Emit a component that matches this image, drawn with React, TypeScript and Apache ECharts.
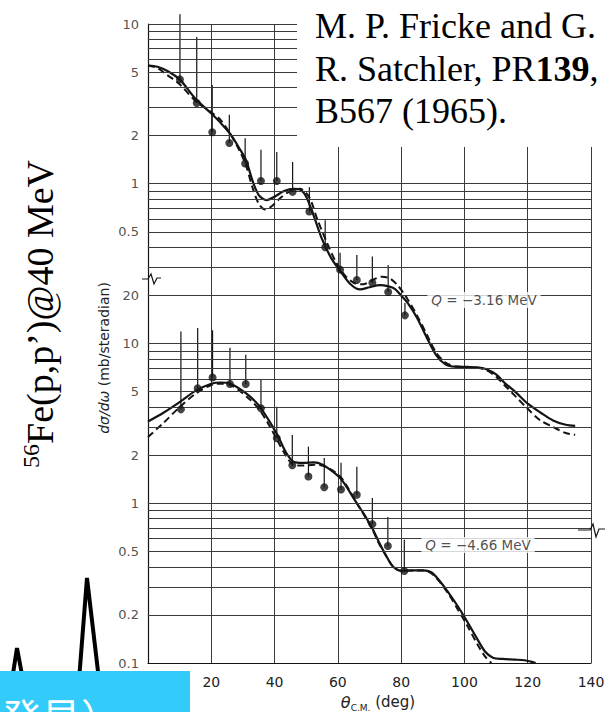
import React, { useEffect, useRef } from 'react';
import * as echarts from 'echarts';

// Upper panel (Q = -3.16 MeV) is drawn two decades above the lower one on one continuous log axis
const UPPER_SHIFT = 100;

const xTickLabels = [20, 40, 60, 80, 100, 120, 140];

// y tick labels: continuous-axis value and printed text
const yTickValues = [1000, 500, 200, 100, 50, 20, 10, 5, 2, 1, 0.5, 0.2, 0.1];
const yTickTexts = ['10', '5', '2', '1', '0.5', '20', '10', '5', '2', '1', '0.5', '0.2', '0.1'];

// horizontal grid lines (upper panel units / lower panel units)
const gridLinesUpper = [10, 9, 8, 7, 6, 5, 4, 3, 2, 1, 0.9, 0.8, 0.7, 0.6, 0.5, 0.4, 0.3];
const gridLinesLower = [20, 10, 9, 8, 7, 6, 5, 4, 3, 2, 1, 0.9, 0.8, 0.7, 0.6, 0.5, 0.4, 0.3, 0.2];

// Q = -3.16 MeV data (upper panel units, mb/sr)
const upperAngles = [10.1, 15.4, 20.3, 25.7, 30.7, 35.7, 40.7, 45.7, 51.0, 56.0, 60.7, 66.0, 70.9, 75.9, 81.2];
const upperValues = [4.5, 3.2, 2.1, 1.8, 1.34, 1.04, 1.04, 0.89, 0.67, 0.4, 0.29, 0.25, 0.24, 0.21, 0.15];
const upperErrTop = [11.5, 8.3, 4.15, 2.7, 1.93, 1.63, 1.58, 1.37, 0.95, 0.59, 0.37, 0.358, 0.35, 0.31, 0.179];

// Q = -4.66 MeV data (lower panel units)
const lowerAngles = [10.4, 15.7, 20.4, 25.9, 30.9, 35.7, 40.7, 45.6, 50.7, 55.7, 61.0, 66.0, 70.9, 75.8, 81.0];
const lowerValues = [3.87, 5.24, 6.13, 5.58, 5.58, 3.93, 2.55, 1.73, 1.47, 1.26, 1.22, 1.13, 0.74, 0.54, 0.377];
const lowerErrTop = [11.9, 12.5, 12.1, 9.4, 8.5, 5.9, 4.02, 2.67, 2.26, 1.92, 1.79, 1.69, 1.08, 0.82, 0.59];

// calculated curves [angle, value]
const upperSolid = [
  [0, 5.5], [3, 5.4], [6, 5.1], [10, 4.5], [15, 3.4], [20, 2.75], [23, 2.4], [26, 2.05], [29, 1.65],
  [31, 1.4], [33, 1.05], [35, 0.85], [37.5, 0.79], [40, 0.83], [43, 0.9], [46, 0.93], [48, 0.92],
  [50, 0.83], [52.5, 0.62], [55, 0.45], [58, 0.34], [61, 0.28], [64, 0.235], [67, 0.218], [70, 0.225],
  [73.3, 0.232], [76, 0.228], [78, 0.22], [80, 0.2], [82, 0.18], [85, 0.145], [88, 0.11], [91, 0.085],
  [94, 0.074], [97, 0.0715], [101, 0.0713], [104, 0.071], [107, 0.069], [110, 0.064], [113, 0.056],
  [116, 0.05], [120, 0.042], [124, 0.037], [128, 0.033], [132, 0.031], [135, 0.0305],
];
const upperDashed = [
  [0, 5.5], [3, 5.3], [6, 4.8], [10, 4.2], [15, 3.3], [20, 2.8], [23, 2.5], [26, 2.05], [29, 1.6],
  [31, 1.3], [33, 0.95], [35, 0.75], [37, 0.69], [39, 0.72], [42, 0.82], [45, 0.9], [48, 0.93],
  [51, 0.82], [53.5, 0.6], [56.5, 0.43], [59.5, 0.32], [62, 0.27], [65, 0.24], [68, 0.235], [71, 0.25],
  [74, 0.262], [76.5, 0.255], [79, 0.23], [82, 0.19], [85, 0.15], [88, 0.115], [91, 0.088], [94, 0.076],
  [97, 0.072], [101, 0.0712], [104, 0.0705], [107, 0.068], [110, 0.062], [113, 0.054], [116, 0.047],
  [120, 0.039], [124, 0.033], [128, 0.03], [132, 0.0275], [135, 0.0268],
];
const lowerSolid = [
  [0, 3.25], [5, 3.7], [10, 4.3], [15, 5.05], [20, 5.6], [23, 5.7], [26, 5.6], [29, 5.2], [32, 4.7],
  [35, 4.1], [38, 3.35], [41, 2.65], [43.5, 2.1], [46, 1.82], [49, 1.79], [52.5, 1.8], [55, 1.75],
  [58, 1.6], [61, 1.42], [63.5, 1.2], [66, 1.0], [68.5, 0.84], [71, 0.69], [73, 0.57], [75.5, 0.46],
  [77.5, 0.4], [80, 0.378], [84, 0.38], [87, 0.38], [89.5, 0.37], [92, 0.33], [95, 0.275], [98, 0.225],
  [101, 0.18], [104, 0.142], [106.5, 0.118], [109, 0.108], [112, 0.106], [116, 0.105], [119, 0.104],
  [121, 0.102], [122.5, 0.1],
];
const lowerDashed = [
  [0, 2.6], [5, 3.2], [10, 4.0], [15, 4.85], [20, 5.5], [23, 5.6], [26, 5.5], [29, 5.05], [32, 4.5],
  [35, 3.9], [38, 3.15], [41, 2.45], [43.5, 2.0], [46, 1.74], [49, 1.72], [52.5, 1.74], [55, 1.72],
  [58, 1.62], [61, 1.45], [63.5, 1.22], [66, 1.0], [68.5, 0.83], [71, 0.68], [73, 0.56], [75.5, 0.46],
  [77.5, 0.4], [80, 0.378], [84, 0.38], [87, 0.38], [89.5, 0.365], [92, 0.325], [95, 0.27], [98, 0.215],
  [101, 0.17], [104, 0.132], [106.5, 0.11], [108.5, 0.1],
];

// Q labels (continuous axis)
const qLabelAngles = [106.2, 104.3];
const qLabelValues = [18.7, 0.548];
const qLabelTexts = ['{i|Q} = \u22123.16 MeV', '{i|Q} = \u22124.66 MeV'];

// fragment of a neighbouring figure (bottom-left)
const spikeX = [12, 17, 23, 79, 87, 99];
const spikeY = [10, 42, 10, 10, 112, 10];

const INK = '#141414';
const GRID = '#3a3a3a';
const SANS = 'DejaVu Sans';
const SERIF = 'Liberation Serif, Times New Roman, serif';

function buildOption(): any {
  const up = (v: number) => v * UPPER_SHIFT;
  const hLines = [...gridLinesUpper.map(up), ...gridLinesLower];
  const errRender = (params: any, api: any) => {
    const x = api.value(0);
    const p0 = api.coord([x, api.value(1)]);
    const p1 = api.coord([x, api.value(2)]);
    return {
      type: 'line',
      shape: { x1: p0[0], y1: p0[1], x2: p1[0], y2: p1[1] },
      style: { stroke: INK, lineWidth: 1.2 },
    };
  };
  return {
    animation: false,
    backgroundColor: '#fff',
    grid: [
      { left: 148, right: 20, top: 24, bottom: 49 },
      { left: 0, top: 570, width: 120, height: 120 },
    ],
    xAxis: [
      {
        type: 'value', min: 0, max: 140, interval: 20, gridIndex: 0,
        axisLine: { show: true, lineStyle: { color: INK, width: 1.2 } },
        axisTick: { show: false },
        axisLabel: {
          margin: 12, fontSize: 14, color: '#222', fontFamily: SANS,
          formatter: (v: number) => (xTickLabels.includes(v) ? String(v) : ''),
        },
        splitLine: { show: true, showMinLine: false, lineStyle: { color: GRID, width: 1 } },
      },
      { type: 'value', min: 0, max: 120, gridIndex: 1, show: false },
    ],
    yAxis: [
      {
        type: 'log', logBase: 10, min: 0.1, max: 1000, gridIndex: 0,
        axisLine: { show: true, lineStyle: { color: INK, width: 1.2 } },
        axisTick: { show: false },
        axisLabel: { show: false },
        splitLine: { show: false },
      },
      { type: 'value', min: 0, max: 120, gridIndex: 1, show: false },
    ],
    series: [
      {
        type: 'scatter', name: 'ticks', xAxisIndex: 0, yAxisIndex: 0, clip: false, silent: true,
        symbolSize: 0, z: 1,
        data: yTickValues.map((v, i) => ({ value: [0, v], label: { formatter: yTickTexts[i] } })),
        label: { show: true, position: 'left', distance: 9, fontSize: 13, color: '#222', fontFamily: SANS },
        markLine: {
          silent: true, symbol: ['none', 'none'], label: { show: false },
          lineStyle: { color: GRID, width: 1, type: 'solid' },
          data: hLines.map((v) => ({ yAxis: v })),
        },
      },
      {
        type: 'line', name: 'upper solid', data: upperSolid.map(([a, v]) => [a, up(v)]),
        smooth: 0.3, symbol: 'none', lineStyle: { color: INK, width: 2.2 }, z: 3,
      },
      {
        type: 'line', name: 'upper dashed', data: upperDashed.map(([a, v]) => [a, up(v)]),
        smooth: 0.3, symbol: 'none', lineStyle: { color: INK, width: 2, type: [7, 4] }, z: 3,
      },
      {
        type: 'line', name: 'lower solid', data: lowerSolid,
        smooth: 0.3, symbol: 'none', lineStyle: { color: INK, width: 2.2 }, z: 3,
      },
      {
        type: 'line', name: 'lower dashed', data: lowerDashed,
        smooth: 0.3, symbol: 'none', lineStyle: { color: INK, width: 2, type: [7, 4] }, z: 3,
      },
      {
        type: 'custom', name: 'upper errors', renderItem: errRender, clip: false, z: 4,
        encode: { x: 0, y: [1, 2] },
        data: upperAngles.map((a, i) => [a, up(upperValues[i]), up(upperErrTop[i])]),
      },
      {
        type: 'custom', name: 'lower errors', renderItem: errRender, clip: false, z: 4,
        encode: { x: 0, y: [1, 2] },
        data: lowerAngles.map((a, i) => [a, lowerValues[i], lowerErrTop[i]]),
      },
      {
        type: 'scatter', name: 'upper data', symbol: 'circle', symbolSize: 8, z: 5,
        itemStyle: { color: INK },
        data: upperAngles.map((a, i) => [a, up(upperValues[i])]),
      },
      {
        type: 'scatter', name: 'lower data', symbol: 'circle', symbolSize: 8, z: 5,
        itemStyle: { color: INK },
        data: lowerAngles.map((a, i) => [a, lowerValues[i]]),
      },
      {
        type: 'scatter', name: 'Q labels', symbolSize: 0, z: 10, silent: true,
        data: qLabelAngles.map((a, i) => ({ value: [a, qLabelValues[i]], label: { formatter: qLabelTexts[i] } })),
        label: {
          show: true, position: 'inside', fontSize: 13.5, color: '#222', fontFamily: SANS,
          backgroundColor: '#fff', padding: [1, 4],
          rich: { i: { fontStyle: 'italic', fontSize: 13.5, fontFamily: SANS, color: '#222' } },
        },
      },
      {
        type: 'line', name: 'spike', xAxisIndex: 1, yAxisIndex: 1, symbol: 'none', silent: true,
        data: spikeX.map((x, i) => [x, spikeY[i]]),
        lineStyle: { color: '#000', width: 4 }, z: 2,
      },
    ],
    graphic: [
      // break marks
      {
        type: 'polyline', z: 20, silent: true,
        shape: { points: [[142, 279], [148, 279], [151, 274], [154, 284], [157, 278], [161, 278]] },
        style: { stroke: INK, lineWidth: 1.2, fill: 'none' },
      },
      {
        type: 'polyline', z: 20, silent: true,
        shape: { points: [[578, 530], [590, 530], [593, 524], [596, 537], [599, 529], [605, 529]] },
        style: { stroke: INK, lineWidth: 1.2, fill: 'none' },
      },
      // y-axis title
      {
        type: 'text', x: 104, y: 358, rotation: Math.PI / 2, z: 20, silent: true,
        style: {
          text: '{i|d\u03c3/d\u03c9} (mb/steradian)',
          fill: '#222', font: `14px ${SANS}`, align: 'center', verticalAlign: 'middle',
          textAlign: 'center', textVerticalAlign: 'middle',
          rich: { i: { fontStyle: 'italic', fontSize: 14, fontFamily: SANS, fill: '#222' } },
        },
      },
      // x-axis title
      {
        type: 'text', x: 378, y: 702, z: 20, silent: true,
        style: {
          text: '{t|\u03b8}{s|C.M.}{n| (deg)}',
          fill: '#222', align: 'center', verticalAlign: 'middle', textAlign: 'center', textVerticalAlign: 'middle',
          rich: {
            t: { fontStyle: 'italic', fontSize: 16, fontFamily: SANS, fill: '#222', lineHeight: 20 },
            s: { fontSize: 9, fontFamily: SANS, fill: '#222', verticalAlign: 'bottom', lineHeight: 12 },
            n: { fontSize: 15, fontFamily: SANS, fill: '#222', lineHeight: 20 },
          },
        },
      },
      // white citation box
      { type: 'rect', z: 50, silent: true, shape: { x: 297, y: 0, width: 314, height: 147 }, style: { fill: '#fff' } },
      {
        type: 'text', x: 315, y: 26, z: 51, silent: true,
        style: { text: 'M. P. Fricke and G.', fill: '#000', font: `36px ${SERIF}`, align: 'left', verticalAlign: 'middle', textAlign: 'left', textVerticalAlign: 'middle' },
      },
      {
        type: 'text', x: 315, y: 69, z: 51, silent: true,
        style: {
          text: '{a|R. Satchler, PR}{b|139}{a|,}', fill: '#000', align: 'left', verticalAlign: 'middle',
          textAlign: 'left', textVerticalAlign: 'middle',
          rich: {
            a: { fontSize: 36, fontFamily: SERIF, fill: '#000' },
            b: { fontSize: 36, fontFamily: SERIF, fontWeight: 'bold', fill: '#000' },
          },
        },
      },
      {
        type: 'text', x: 315, y: 111, z: 51, silent: true,
        style: { text: 'B567 (1965).', fill: '#000', font: `36px ${SERIF}`, align: 'left', verticalAlign: 'middle', textAlign: 'left', textVerticalAlign: 'middle' },
      },
      // rotated reaction label: superscript mass number + reaction
      {
        type: 'group', x: 40, y: 314, rotation: Math.PI / 2, z: 51, silent: true,
        children: [
          {
            type: 'text', x: -154, y: -9, z: 51,
            style: { text: '56', fill: '#000', font: `24px ${SERIF}`, align: 'left', verticalAlign: 'middle', textAlign: 'left', textVerticalAlign: 'middle' },
          },
          {
            type: 'text', x: -130, y: 0, z: 51,
            style: { text: 'Fe(p,p\u2019)@40 MeV', fill: '#000', font: `38px ${SERIF}`, align: 'left', verticalAlign: 'middle', textAlign: 'left', textVerticalAlign: 'middle' },
          },
        ],
      },
      // cyan box
      { type: 'rect', z: 50, silent: true, shape: { x: 0, y: 671, width: 190, height: 41 }, style: { fill: '#33CBFA' } },
      {
        type: 'text', x: 1, y: 696, z: 51, silent: true,
        style: { text: '発見）', fill: '#fff', font: `40px "Noto Sans CJK JP"`, align: 'left', verticalAlign: 'top', textAlign: 'left', textVerticalAlign: 'top' },
      },
    ],
  };
}

export default function App() {
  const ref = useRef<HTMLDivElement>(null);
  useEffect(() => {
    if (!ref.current) return;
    const chart = echarts.init(ref.current, undefined, { renderer: 'svg' });
    chart.setOption(buildOption());
    return () => chart.dispose();
  }, []);
  return (
    <div
      ref={ref}
      style={{ position: 'fixed', left: 0, top: 0, width: 611, height: 712, background: '#fff' }}
    />
  );
}
